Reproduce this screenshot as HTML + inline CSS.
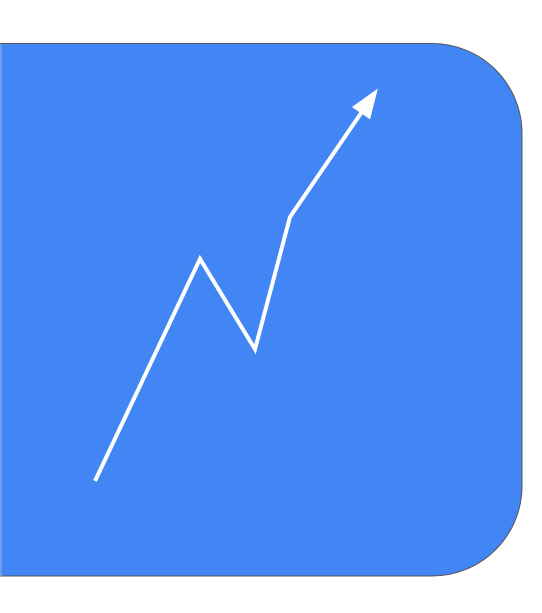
<!DOCTYPE html>
<html><head><meta charset="utf-8"><style>
html,body{margin:0;padding:0;background:#fff;width:542px;height:613px;overflow:hidden}
svg{display:block}
</style></head><body>
<svg id="chart" width="542" height="613" viewBox="0 0 542 613">
<path d="M0.5,43.5 H432 A90,90 0 0 1 522,133.5 V486 A90,90 0 0 1 432,576 H0.5 Z" fill="#4285f4" stroke="#555" stroke-width="1"/>
<rect x="0" y="44" width="2" height="532" fill="#6c9cf0"/>
<g id="marks"></g>
</svg>
<script>
const categories = [0, 1, 2, 3, 4];
const values = [0, 58.3, 34.6, 69.3, 100];
const xPos = [95, 200, 255, 290, 370];
function xAxis(i){ return xPos[i]; }
function yAxis(v){ return 481 - v * 3.81; }
const g = document.getElementById('marks');
const ns = 'http://www.w3.org/2000/svg';
const pts = categories.map((c,i)=>[xAxis(i), yAxis(values[i])]);
const line = document.createElementNS(ns,'polyline');


line.setAttribute('points', pts.map(p=>p.join(',')).join(' '));
line.setAttribute('fill','none');
line.setAttribute('stroke','#fff');
line.setAttribute('stroke-width','4');
g.appendChild(line);
const last = pts[pts.length-1], prev = pts[pts.length-2];
const ang = Math.atan2(last[1]-prev[1], last[0]-prev[0]);
const tip = [last[0]+14*Math.cos(ang), last[1]+14*Math.sin(ang)];
const L = 30, W = 11;
const bx = tip[0]-L*Math.cos(ang), by = tip[1]-L*Math.sin(ang);
const px = -Math.sin(ang)*W, py = Math.cos(ang)*W;
const head = document.createElementNS(ns,'polygon');


head.setAttribute('points', `${tip[0]},${tip[1]} ${bx+px},${by+py} ${bx-px},${by-py}`);
head.setAttribute('fill','#fff');
g.appendChild(head);
</script>
</body></html>
